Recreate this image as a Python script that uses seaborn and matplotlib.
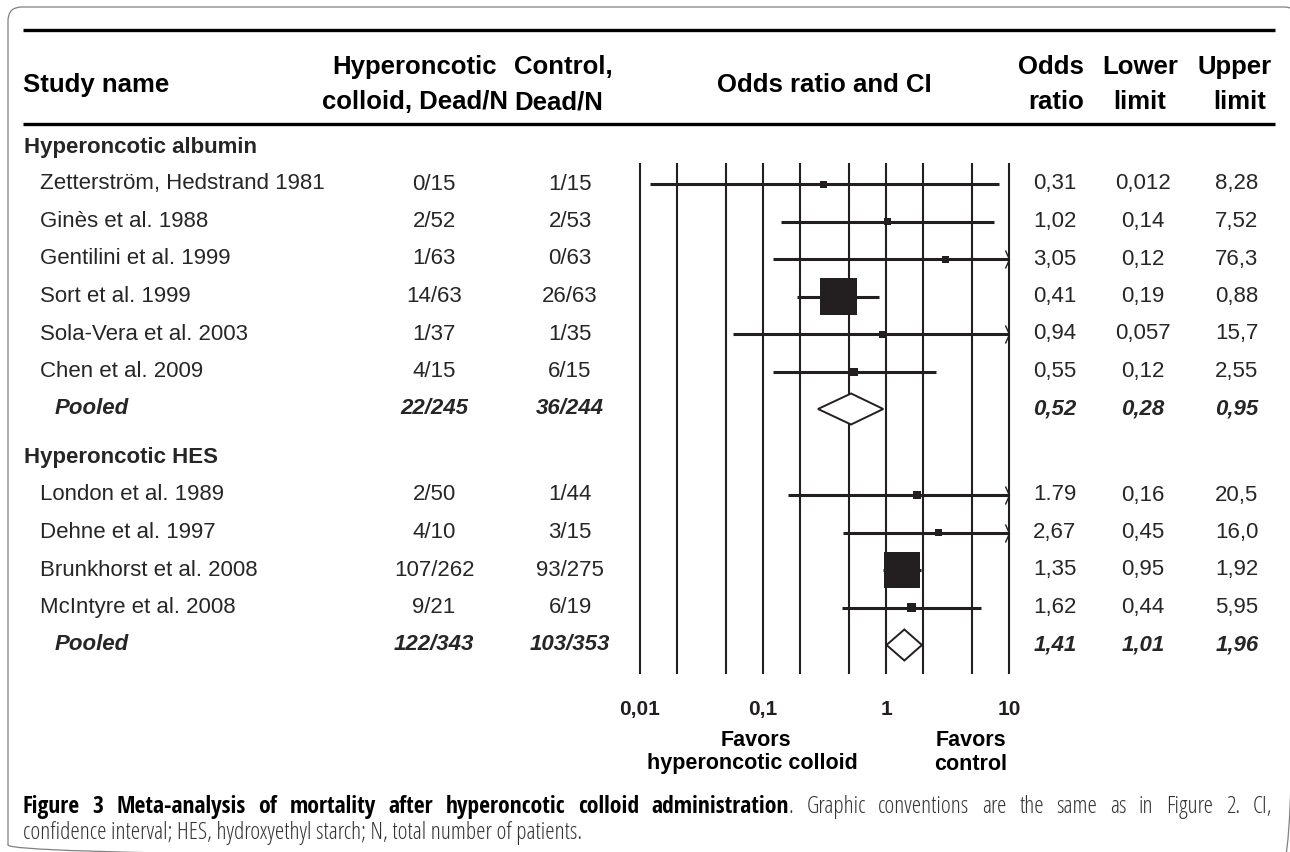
import numpy as np
import pandas as pd
import matplotlib
matplotlib.use('Agg')
import matplotlib.pyplot as plt
import seaborn as sns
from matplotlib import font_manager
from matplotlib.font_manager import FontProperties
from matplotlib.patches import FancyBboxPatch, Polygon
from matplotlib.path import Path
from matplotlib.ticker import NullLocator

# ---- data ----
groups = ['Hyperoncotic albumin', 'Hyperoncotic HES']
study_group = [0, 0, 0, 0, 0, 0, 1, 1, 1, 1]
studies = ['Zetterström, Hedstrand 1981', 'Ginès et al. 1988', 'Gentilini et al. 1999',
           'Sort et al. 1999', 'Sola-Vera et al. 2003', 'Chen et al. 2009',
           'London et al. 1989', 'Dehne et al. 1997', 'Brunkhorst et al. 2008',
           'McIntyre et al. 2008']
colloid_dead = ['0/15', '2/52', '1/63', '14/63', '1/37', '4/15', '2/50', '4/10', '107/262', '9/21']
control_dead = ['1/15', '2/53', '0/63', '26/63', '1/35', '6/15', '1/44', '3/15', '93/275', '6/19']
odds = [0.31, 1.02, 3.05, 0.41, 0.94, 0.55, 1.79, 2.67, 1.35, 1.62]
lower = [0.012, 0.14, 0.12, 0.19, 0.057, 0.12, 0.16, 0.45, 0.95, 0.44]
upper = [8.28, 7.52, 76.3, 0.88, 15.7, 2.55, 20.5, 16.0, 1.92, 5.95]
odds_txt = ['0,31', '1,02', '3,05', '0,41', '0,94', '0,55', '1.79', '2,67', '1,35', '1,62']
lower_txt = ['0,012', '0,14', '0,12', '0,19', '0,057', '0,12', '0,16', '0,45', '0,95', '0,44']
upper_txt = ['8,28', '7,52', '76,3', '0,88', '15,7', '2,55', '20,5', '16,0', '1,92', '5,95']
box_side = [7, 7, 7, 37, 7, 8, 8, 7, 36, 9]   # size of the weight square, px

pooled_colloid = ['22/245', '122/343']
pooled_control = ['36/244', '103/353']
pooled_odds = [0.52, 1.41]
pooled_lower = [0.28, 1.01]
pooled_upper = [0.95, 1.96]
pooled_odds_txt = ['0,52', '1,41']
pooled_lower_txt = ['0,28', '1,01']
pooled_upper_txt = ['0,95', '1,96']

grid_at = [0.01, 0.02, 0.05, 0.1, 0.2, 0.5, 1, 2, 5, 10]
tick_at = [0.01, 0.1, 1, 10]
tick_labels = ['0,01', '0,1', '1', '10']

caption_bold = 'Figure 3 Meta-analysis of mortality after hyperoncotic colloid administration'
caption_rest = '. Graphic conventions are the same as in Figure 2. CI,'
caption_line2 = 'confidence interval; HES, hydroxyethyl starch; N, total number of patients.'

# ---- layout ----
W, H = 1290, 852
INK = '#231f20'
sns.set_theme(style='white')
plt.rcParams['font.family'] = ['Liberation Sans', 'DejaVu Sans']


def narrow_font(bold):
    # look for an installed condensed face of the wanted weight
    prefs = ['OpenSans', 'Open Sans', 'Roboto', 'Liberation', 'DejaVu', '']
    found = []
    for f in font_manager.fontManager.ttflist:
        tag = (f.name + ' ' + f.fname).lower()
        narrow = ('condensed' in tag or 'narrow' in tag or
                  str(f.stretch) in ('condensed', 'semi-condensed', '75', '87.5'))
        if not narrow or f.style != 'normal':
            continue
        w = f.weight if isinstance(f.weight, int) else font_manager.weight_dict.get(f.weight, 400)
        if bold and w < 600:
            continue
        if not bold and w > 450:
            continue
        rank = next(i for i, p in enumerate(prefs) if p.lower() in tag)
        found.append((rank, abs(w - (700 if bold else 350)), f.fname))
    if found:
        return FontProperties(fname=sorted(found)[0][2])
    return FontProperties(family='Open Sans', weight='bold' if bold else 'light')


cap_bold_fp = narrow_font(True)
cap_reg_fp = narrow_font(False)

fig = plt.figure(figsize=(W / 100, H / 100), dpi=100)
bg = fig.add_axes([0, 0, 1, 1])
bg.set_xlim(0, W)
bg.set_ylim(H, 0)
bg.axis('off')

# rounded frame
bg.add_patch(FancyBboxPatch((8, 7), 1290, 852, boxstyle='round,pad=0,rounding_size=14',
                            fc='none', ec='#808080', lw=0.9))

# header rules and headings
for yy in [30, 124]:
    bg.plot([23, 1275], [yy, yy], color='black', lw=2.4, solid_capstyle='butt')
hfs = 18.5
hd = dict(fontsize=hfs, fontweight='bold', color='black', va='center')
h1, h2, hm = 67, 102, 85
bg.text(23, hm, 'Study name', ha='left', **hd)
bg.text(415, h1, 'Hyperoncotic', ha='center', **hd)
bg.text(415, h2, 'colloid, Dead/N', ha='center', **hd)
bg.text(514, h1, 'Control,', ha='left', **hd)
bg.text(514, h2, 'Dead/N', ha='left', **hd)
bg.text(824, hm, 'Odds ratio and CI', ha='center', **hd)
bg.text(1084, h1, 'Odds', ha='right', **hd)
bg.text(1084, h2, 'ratio', ha='right', **hd)
bg.text(1140, h1, 'Lower', ha='center', **hd)
bg.text(1140, h2, 'limit', ha='center', **hd)
bg.text(1272, h1, 'Upper', ha='right', **hd)
bg.text(1266, h2, 'limit', ha='right', **hd)

# row positions
row_step = 37.5
first_row = [184, 495]
group_y = [147, 457]
ypos = []
counts = [0, 0]
for g in study_group:
    ypos.append(first_row[g] + counts[g] * row_step)
    counts[g] += 1
pooled_y = [first_row[g] + counts[g] * row_step for g in range(2)]

df = pd.DataFrame({'study': studies, 'group': study_group, 'y': ypos,
                   'odds': odds, 'lower': lower, 'upper': upper,
                   'area': (np.array(box_side) * 0.72) ** 2})

fs = 16
col_x = [434, 570]
num_x = [1055, 1143, 1237]
for g, name in enumerate(groups):
    bg.text(24, group_y[g], name, fontsize=fs, fontweight='bold', ha='left', va='center')
for i, r in df.iterrows():
    y = r['y']
    bg.text(40, y, r['study'], fontsize=fs, ha='left', va='center')
    bg.text(col_x[0], y, colloid_dead[i], fontsize=fs, ha='center', va='center')
    bg.text(col_x[1], y, control_dead[i], fontsize=fs, ha='center', va='center')
    for x, t in zip(num_x, [odds_txt[i], lower_txt[i], upper_txt[i]]):
        bg.text(x, y, t, fontsize=fs, ha='center', va='center')
bi = dict(fontsize=fs, fontweight='bold', fontstyle='italic', va='center')
for g in range(2):
    y = pooled_y[g]
    bg.text(55, y, 'Pooled', ha='left', **bi)
    bg.text(col_x[0], y, pooled_colloid[g], ha='center', **bi)
    bg.text(col_x[1], y, pooled_control[g], ha='center', **bi)
    for x, t in zip(num_x, [pooled_odds_txt[g], pooled_lower_txt[g], pooled_upper_txt[g]]):
        bg.text(x, y, t, ha='center', **bi)

# ---- forest panel ----
fx0, fx1, ftop, fbot = 640, 1009, 163, 674
fx = fig.add_axes([fx0 / W, 1 - fbot / H, (fx1 - fx0) / W, (fbot - ftop) / H])
fx.patch.set_alpha(0)
fx.set_xscale('log')
fx.set_xlim(0.01, 10)
fx.set_ylim(fbot, ftop)
for s in fx.spines.values():
    s.set_visible(False)
fx.vlines(grid_at, ftop, fbot, color=INK, lw=1.5, clip_on=False, zorder=1)

chevron = Path([(-0.45, 1), (0, 0), (-0.45, -1)], [Path.MOVETO, Path.LINETO, Path.LINETO])
for _, r in df.iterrows():
    hi = min(r['upper'], 10)
    fx.hlines(r['y'], r['lower'], hi, color=INK, lw=2.2, zorder=2, clip_on=False)
    if r['upper'] > 10:
        fx.plot([10], [r['y']], marker=chevron, ms=13, mfc='none', mec=INK, mew=1.0,
                clip_on=False, zorder=3)

for g in range(2):
    y = pooled_y[g]
    h = 15.5
    fx.add_patch(Polygon([(pooled_lower[g], y), (pooled_odds[g], y - h),
                          (pooled_upper[g], y), (pooled_odds[g], y + h)],
                         closed=True, fc='white', ec=INK, lw=1.4, zorder=3))

sns.scatterplot(data=df, x='odds', y='y', size='area',
                sizes={a: a for a in df['area'].unique()}, marker='s', color=INK,
                linewidth=0, legend=False, ax=fx, zorder=4, clip_on=False)
fx.set_xlabel('')
fx.set_ylabel('')
fx.set_yticks([])
fx.set_xticks(tick_at)
fx.set_xticklabels(tick_labels, fontsize=15, fontweight='bold', color=INK)
fx.xaxis.set_minor_locator(NullLocator())
fx.tick_params(axis='x', length=0, pad=19)

fav = dict(fontsize=15.5, fontweight='bold', ha='center', va='center', color='black')
bg.text(756, 741, 'Favors', **fav)
bg.text(752, 764, 'hyperoncotic colloid', **fav)
bg.text(971, 741, 'Favors', **fav)
bg.text(971, 764, 'control', **fav)

# ---- caption (line 1 justified between the margins) ----
cap_left, cap_right = 23, 1272
rend = fig.canvas.get_renderer()
probe = bg.text(0, 0, caption_bold, fontproperties=cap_bold_fp)
probe.set_fontsize(12)
wb = probe.get_window_extent(rend).width
probe.remove()
cap_fs = 12 * 712 / wb

t3 = bg.text(cap_left, 833, caption_line2, fontproperties=cap_reg_fp, color='#333333',
             ha='left', va='center')
t3.set_fontsize(cap_fs)

tokens = [(w, cap_bold_fp, 'black', False) for w in caption_bold.split()]
tokens.append(('.', cap_reg_fp, '#333333', True))
tokens += [(w, cap_reg_fp, '#333333', False) for w in caption_rest[1:].split()]
arts = []
for word, fp, col, glued in tokens:
    t = bg.text(0, 807, word, fontproperties=fp, color=col, ha='left', va='center')
    t.set_fontsize(cap_fs)
    arts.append((t, glued))
widths = [t.get_window_extent(rend).width for t, _ in arts]
n_gaps = sum(1 for _, glued in arts[1:] if not glued)
gap = (cap_right - cap_left - sum(widths)) / n_gaps
x = cap_left
for (t, glued), w in zip(arts, widths):
    if glued:
        x -= gap
    t.set_x(x)
    x += w + gap

fig.savefig('out.png', dpi=100)
